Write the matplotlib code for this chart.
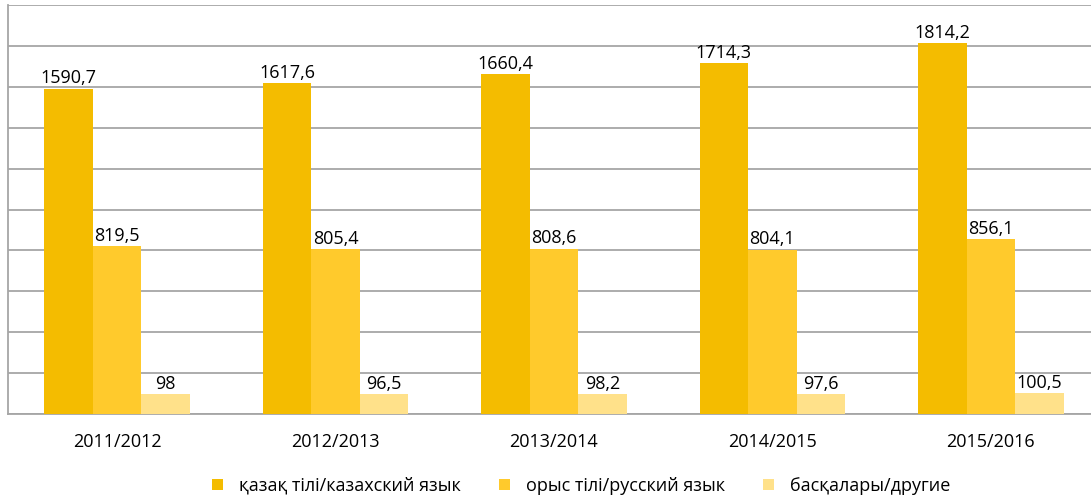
import matplotlib.pyplot as plt
import numpy as np

years = ['2011/2012', '2012/2013', '2013/2014', '2014/2015', '2015/2016']
kazakh = [1590.7, 1617.6, 1660.4, 1714.3, 1814.2]
russian = [819.5, 805.4, 808.6, 804.1, 856.1]
other = [98, 96.5, 98.2, 97.6, 100.5]
names = ['қазақ тілі/казахский язык', 'орыс тілі/русский язык', 'басқалары/другие']
colors = ['#F4BC00', '#FFCA2C', '#FFE18A']

plt.rcParams['font.family'] = ['Open Sans', 'DejaVu Sans']

fig = plt.figure(figsize=(10.91, 4.97), dpi=100)
ax = fig.add_axes([8 / 1091, 83 / 497, 1092 / 1091, 409 / 497])

x = np.arange(len(years))
w = 0.222
for i, (vals, c, n) in enumerate(zip([kazakh, russian, other], colors, names)):
    bars = ax.bar(x + (i - 1) * w, vals, w, color=c, label=n, zorder=3)
    labels = [('%g' % v).replace('.', ',') for v in vals]
    ax.bar_label(bars, labels=labels, padding=1, fontsize=13, zorder=4)

ax.set_xlim(-0.5, len(years) - 0.5)
ax.set_ylim(0, 2000)
ax.set_yticks(np.arange(0, 2001, 200))
ax.set_yticklabels([])
ax.tick_params(axis='y', length=0)
ax.tick_params(axis='x', length=0, pad=14, labelsize=13)
ax.set_xticks(x)
ax.set_xticklabels(years)
ax.grid(axis='y', color='#A6A6A6', linewidth=1.3, zorder=0)
for s in ['top', 'right']:
    ax.spines[s].set_visible(False)
for s in ['left', 'bottom']:
    ax.spines[s].set_color('#A6A6A6')
    ax.spines[s].set_linewidth(1.3)

ax.legend(loc='upper center', bbox_to_anchor=(0.525, -0.136), ncol=3, frameon=False,
          fontsize=13, handlelength=0.6, handleheight=0.6, handletextpad=0.9,
          columnspacing=2.1, borderaxespad=0)

fig.savefig('out.png', dpi=100)
